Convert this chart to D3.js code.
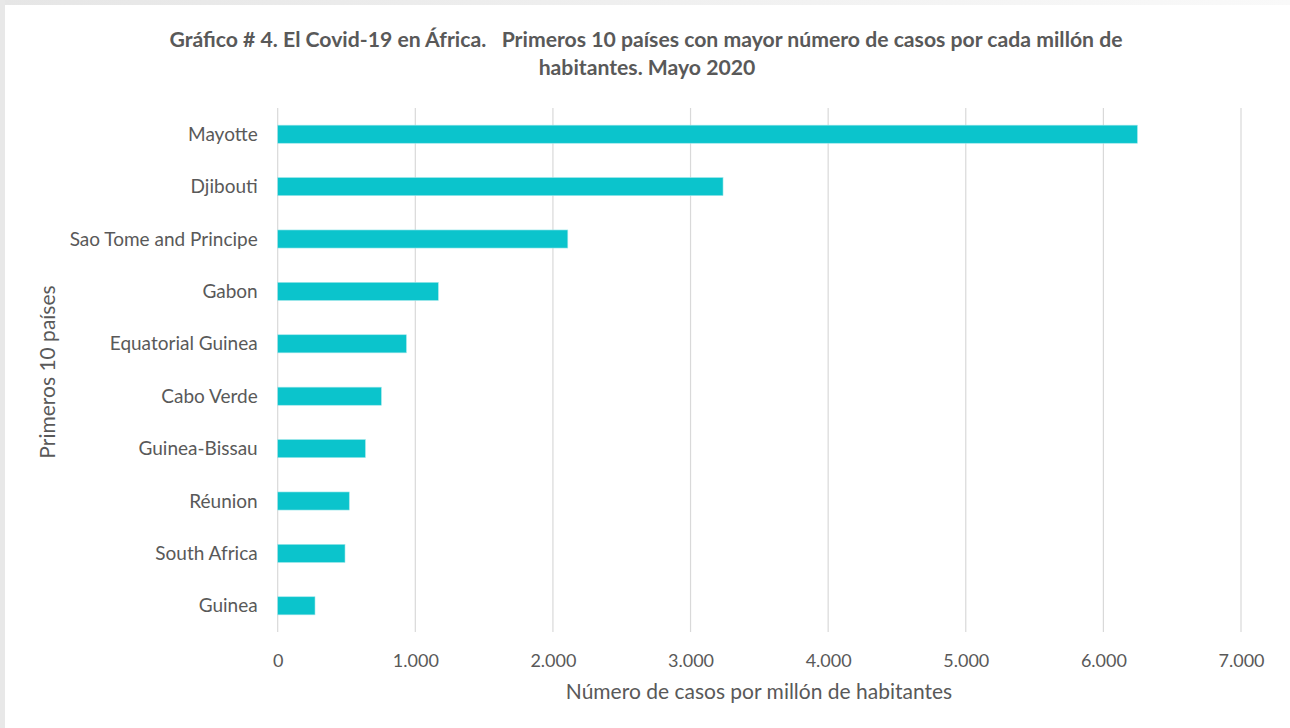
<!DOCTYPE html>
<html><head><meta charset="utf-8">
<script src="https://cdn.jsdelivr.net/npm/d3@7"></script>
<style>
html,body{margin:0;padding:0;background:#fff;}
svg{display:block;}
text{font-family:Lato,"Open Sans",sans-serif;}
</style></head>
<body>
<svg id="chart" width="1290" height="728"></svg>
<script>
const categories = ["Mayotte","Djibouti","Sao Tome and Principe","Gabon","Equatorial Guinea","Cabo Verde","Guinea-Bissau","Réunion","South Africa","Guinea"];
const values = [6247,3236,2108,1167,935,753,637,520,489,271];
const tickValues = [0,1000,2000,3000,4000,5000,6000,7000];
const tickLabels = ["0","1.000","2.000","3.000","4.000","5.000","6.000","7.000"];
const titleLines = ["Gráfico # 4. El Covid-19 en África.   Primeros 10 países con mayor número de casos por cada millón de","habitantes. Mayo 2020"];
const xTitle = "Número de casos por millón de habitantes";
const yTitle = "Primeros 10 países";

const svg = d3.select("#chart");
const W = 1290, H = 728;
const grad = svg.append("defs").append("linearGradient").attr("id","tg").attr("x1","0").attr("x2","1");
grad.append("stop").attr("offset","0").attr("stop-color","#e6e6e6");
grad.append("stop").attr("offset","1").attr("stop-color","#f9f9f9");
svg.append("rect").attr("x",0).attr("y",0).attr("width",W).attr("height",5).attr("fill","url(#tg)");
svg.append("rect").attr("x",0).attr("y",0).attr("width",5).attr("height",H).attr("fill","#e8e8e8");

const pLeft = 277.7, pRight = 1241, pTop = 108, pBottom = 632;
const x = d3.scaleLinear().domain([0,7000]).range([pLeft,pRight]);
const y = d3.scaleBand().domain(categories).range([pTop,pBottom]).paddingInner(0.655).paddingOuter(0.3275);

// gridlines
svg.append("g").selectAll("line").data(tickValues).join("line")
  .attr("x1",d=>x(d)).attr("x2",d=>x(d)).attr("y1",pTop).attr("y2",pBottom)
  .attr("stroke","#d9d9d9").attr("stroke-width",1.2);

// bars
svg.append("g").selectAll("rect").data(values).join("rect")
  .attr("x",x(0)).attr("y",(d,i)=>y(categories[i]))
  .attr("width",d=>x(d)-x(0)).attr("height",y.bandwidth())
  .attr("fill","#0bc4cc").attr("stroke","#9ee6ea").attr("stroke-width",0.6);

// x axis
const xAxis = d3.axisBottom(x).tickValues(tickValues).tickFormat((d,i)=>tickLabels[i]).tickSize(0).tickPadding(0);
const gx = svg.append("g").attr("transform",`translate(0,${pBottom})`).call(xAxis);
gx.select(".domain").remove();
gx.selectAll("text").attr("dy",0).attr("y",34.5).attr("fill","#595959").style("font-size","18px").style("font-family","Lato");

// y axis
const yAxis = d3.axisLeft(y).tickSize(0).tickPadding(0);
const gy = svg.append("g").attr("transform",`translate(${pLeft-20},0)`).call(yAxis);
gy.select(".domain").remove();
gy.selectAll("text").attr("fill","#595959").style("font-size","19px").style("font-family","Lato").attr("dy","0.35em");

// titles
svg.append("text").attr("x",646).attr("y",47).attr("text-anchor","middle").attr("fill","#595959")
  .attr("xml:space","preserve").style("white-space","pre")
  .style("font-size","21.2px").style("font-weight","bold").text(titleLines[0]);
svg.append("text").attr("x",647).attr("y",75).attr("text-anchor","middle").attr("fill","#595959")
  .style("font-size","21.2px").style("font-weight","bold").text(titleLines[1]);
svg.append("text").attr("x",759).attr("y",698.5).attr("text-anchor","middle").attr("fill","#595959")
  .style("font-size","21px").text(xTitle);
svg.append("text").attr("transform","translate(55,372) rotate(-90)").attr("text-anchor","middle").attr("fill","#595959")
  .style("font-size","21px").text(yTitle);
</script>
</body></html>
